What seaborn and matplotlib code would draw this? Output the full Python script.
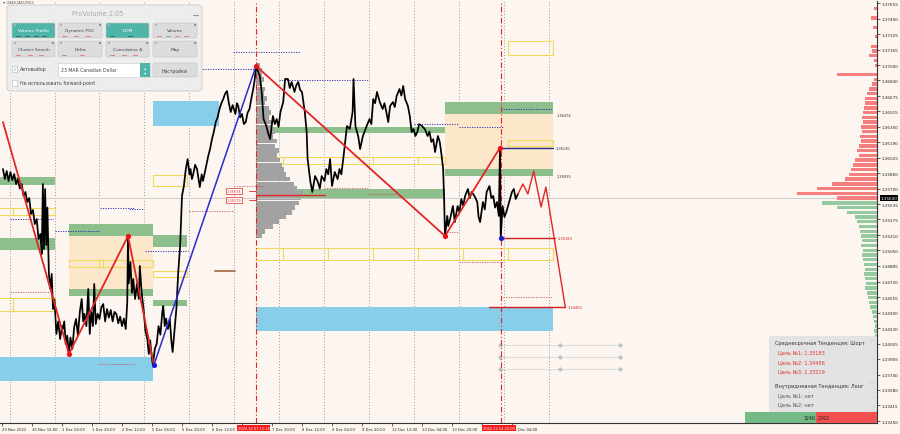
import numpy as np
import pandas as pd
import matplotlib
matplotlib.use("Agg")
import matplotlib.pyplot as plt
import matplotlib.transforms as mtrans
from matplotlib.patches import Rectangle, FancyBboxPatch
import seaborn as sns

# ---------------- data ----------------
# trading hours since 29 Nov 2022 20:00 (weekend removed), USDCAD M15 close path
price_hours = [0.5, 1.5, 2.5, 3.5, 4.5, 5.5, 6.5, 7.5, 8.5, 9.5, 10.5, 11.5, 12.5, 13.5, 14.5, 15.5,
               16.5, 17.5, 18.5, 19.5, 20.5, 21.2, 21.8, 22.4, 23, 23.6, 24.2, 25, 25.8, 26.5, 27.2,
               28, 29, 30, 31, 32, 32.5, 33.2, 34, 34.8, 35.7,
               36.5, 37.5, 38.5, 39.5, 40.5, 41.5, 42.5, 43.3, 44, 45, 46, 46.8, 47.6, 48.5, 49.2, 50,
               51, 52, 53, 54, 55, 56, 57, 58, 59, 60, 61, 62, 63, 64, 65, 66, 66.8, 67.2, 67.6,
               68.5, 69.3, 70, 71, 72, 73, 73.5, 74.5, 75.5, 76.5, 77.5, 78.3, 79, 80, 80.5, 81.5,
               82.5, 83.5, 84.5, 85.5, 86, 86.8, 87.5, 88.5, 89.5, 90.3, 91, 92, 93, 94, 95, 96, 97,
               98, 99, 100, 100.5, 101.3, 102, 103, 104, 105, 105.5, 106.5, 107.2, 108, 109, 110,
               111, 112, 113, 114, 115, 116, 117, 118, 119, 120, 121, 122, 123, 124.5, 125.3, 126,
               127, 128, 129, 130, 131, 132, 133, 134, 134.8, 135.5,
               137.5, 138.5, 139.5, 141, 142, 143, 144.5, 145.5, 146.5, 147.5, 148.5, 150, 151, 152.5,
               153.5, 154.5, 156, 157, 158, 159, 160, 161.5, 162.5, 163, 164.5, 165.5, 167, 168.5,
               169.5, 170.5, 172, 173, 174, 175, 176, 177.5, 179, 180, 181, 182, 184, 185.5, 187,
               187.5, 188.5, 190, 191, 192.5, 194.5, 196, 197, 198, 199, 200, 201.5, 203, 204, 205,
               206, 207,
               208.5, 209.5, 210.5, 212, 213, 214, 215, 216.5, 217.5, 218.5, 219.5, 220.5, 221.5,
               222.5, 224, 225.5, 227, 228, 229, 230, 231, 232.5, 233.5, 234.5, 235.3, 235.8, 236.3,
               237.5, 238, 239, 240.5, 241.5, 243, 244, 245, 246, 247, 248.5, 249.5, 250.5, 252,
               253.5, 254.2, 255, 256.5, 257.5, 258.5, 260, 261, 262, 263, 264, 265, 265.6, 266,
               267, 268, 269, 270.5, 272, 273, 274, 275.2]
price_close = [1.35906, 1.35801, 1.35885, 1.35780, 1.35874, 1.35790, 1.35853, 1.35748, 1.35801, 1.35700,
               1.35748, 1.35622, 1.35664, 1.35558, 1.35600, 1.35432, 1.35474, 1.35326, 1.35379, 1.35168,
               1.35221, 1.35010, 1.35748, 1.35063, 1.35695, 1.35105, 1.35500, 1.34800, 1.34641, 1.34800,
               1.34430, 1.34530, 1.34167, 1.34300, 1.34114, 1.34250, 1.34220, 1.34300, 1.34062, 1.34150,
               1.33956,
               1.34130, 1.34010, 1.34240, 1.34325, 1.34150, 1.34400, 1.34536, 1.34300, 1.34380, 1.34250,
               1.34641, 1.34167, 1.34400, 1.34250, 1.34694, 1.34272, 1.34380, 1.34325, 1.34450, 1.34483,
               1.34300, 1.34430, 1.34340, 1.34420, 1.34300, 1.34400, 1.34378, 1.34280, 1.34350, 1.34250,
               1.34330, 1.34220, 1.34500, 1.35200, 1.34700,
               1.34926, 1.34600, 1.34747, 1.34536, 1.34700, 1.34536, 1.34884, 1.34600, 1.34430, 1.34200,
               1.34114, 1.33956, 1.34100, 1.33900, 1.33840, 1.34010, 1.34062, 1.34250, 1.34160, 1.34400,
               1.34462, 1.34250, 1.34330, 1.34220, 1.34325, 1.34100, 1.33977, 1.34200, 1.34430, 1.34820,
               1.35095, 1.35622, 1.35727, 1.35900, 1.36011, 1.35850, 1.35906, 1.35800, 1.35853, 1.35950,
               1.35906, 1.35780, 1.35716, 1.35850, 1.35780, 1.35853, 1.35950, 1.36043, 1.36120, 1.36222,
               1.36300, 1.36401, 1.36450, 1.36538, 1.36600, 1.36644, 1.36700, 1.36728, 1.36600, 1.36507,
               1.36580, 1.36486, 1.36600, 1.36570, 1.36450, 1.36486, 1.36380, 1.36401, 1.36500, 1.36538,
               1.36650, 1.36749, 1.36850, 1.36992,
               1.36886, 1.36718, 1.36433, 1.36359, 1.36280, 1.36222, 1.36465, 1.36380, 1.36433, 1.36350,
               1.36507, 1.36612, 1.36855, 1.36855, 1.36760, 1.36823, 1.36718, 1.36790, 1.36823, 1.36740,
               1.36718, 1.36507, 1.36296, 1.36011, 1.35769, 1.35664, 1.35832, 1.35769, 1.35700, 1.35832,
               1.35780, 1.35906, 1.35850, 1.36011, 1.35727, 1.35874, 1.35800, 1.35906, 1.35850, 1.36011,
               1.36359, 1.36328, 1.36507, 1.36855, 1.36359, 1.36250, 1.36117, 1.36254, 1.36359, 1.36433,
               1.36380, 1.36644, 1.36600, 1.36718, 1.36612, 1.36538, 1.36600, 1.36507, 1.36401, 1.36570,
               1.36612, 1.36560, 1.36676, 1.36749, 1.36680, 1.36781, 1.36644, 1.36570, 1.36465, 1.36296,
               1.36328, 1.36254, 1.36296, 1.36380, 1.36359, 1.36328, 1.36254, 1.36300, 1.36191, 1.36220,
               1.36085, 1.36254, 1.36191, 1.36043, 1.35906, 1.35590, 1.35200, 1.35411, 1.35305, 1.35379,
               1.35516, 1.35347, 1.35516, 1.35450, 1.35590, 1.35520, 1.35622, 1.35695, 1.35600, 1.35664,
               1.35622, 1.35558, 1.35400, 1.35347, 1.35558, 1.35480, 1.35664, 1.35727, 1.35600, 1.35622,
               1.35500, 1.35558, 1.35411, 1.36130, 1.35183, 1.35516, 1.35400, 1.35453, 1.35558, 1.35664,
               1.35695, 1.35590, 1.35643]

time_tick_hours = [0, 16, 32, 48, 64, 80, 96, 112, 128, 144, 160, 176, 192, 208, 224, 240, 256, 272]
time_tick_labels = ["29 Nov 2022", "30 Nov 12:00", "1 Dec 04:00", "1 Dec 20:00", "2 Dec 12:00",
                    "5 Dec 04:00", "5 Dec 20:00", "6 Dec 12:00", "", "7 Dec 20:00",
                    "8 Dec 12:00", "9 Dec 04:00", "9 Dec 20:00", "12 Dec 12:00", "13 Dec 04:00",
                    "13 Dec 20:00", "", "15 Dec 04:00"]
day_separators = [4, 28, 52, 76, 100, 124, 148, 172, 196, 220, 244, 268, 292]
marked_times_h = [135.25, 266.0]
marked_times_lbl = ["2022.12.07 11:15", "2022.12.14 22:00"]

price_ticks = [1.37655, 1.37490, 1.37325, 1.37165, 1.37000, 1.36840, 1.36675, 1.36515, 1.36350,
               1.36190, 1.36025, 1.35860, 1.35700, 1.35535, 1.35375, 1.35210, 1.35050, 1.34885,
               1.34720, 1.34555, 1.34390, 1.34230, 1.34065, 1.33905, 1.33740, 1.33580, 1.33415, 1.33250]
current_price = 1.35600

zz_red_a_h = [0.5, 35.7, 67.2, 81.0]
zz_red_a_p = [1.36401, 1.33956, 1.35200, 1.33840]
zz_blue_h = [81.0, 135.5]
zz_blue_p = [1.33840, 1.36992]
zz_red_b_h = [135.5, 236.3, 265.6]
zz_red_b_p = [1.36992, 1.35200, 1.36130]
pivot_red_h = [35.7, 67.2, 135.5, 236.3, 265.6]
pivot_red_p = [1.33956, 1.35200, 1.36992, 1.35200, 1.36130]
pivot_blue_h = [81.0, 266.0]
pivot_blue_p = [1.33840, 1.35183]
forecast_h = [275.2, 277.8, 280.5, 283.6, 287.5, 290.1, 300.4]
forecast_p = [1.35643, 1.35748, 1.35643, 1.35885, 1.35506, 1.35716, 1.34456]

# zones: (start hour, end hour, low price, high price)
green_zones = [(-2, 28, 1.35737, 1.35822), (-2, 28, 1.35052, 1.35179),
               (35.7, 80.5, 1.35200, 1.35326), (35.7, 80.5, 1.34568, 1.34641),
               (80.5, 98.7, 1.35084, 1.35210), (80.5, 98.7, 1.34462, 1.34525),
               (135.5, 236.3, 1.35590, 1.35695), (138.5, 236.3, 1.36286, 1.36349),
               (236.3, 294, 1.36486, 1.36612), (236.3, 294, 1.35832, 1.35906)]
orange_zones = [(35.7, 80.5, 1.34641, 1.35200), (236.3, 294, 1.35906, 1.36486)]
blue_zones = [(-2, 80.5, 1.33672, 1.33925), (80.5, 115.7, 1.36359, 1.36623),
              (135.5, 294, 1.34199, 1.34452)]
yellow_boxes = [(-2, 28, 1.35421, 1.35495, [6]), (-2, 28, 1.34409, 1.34546, [6]),
                (35.7, 80.5, 1.34873, 1.34947, [52, 54]), (80.5, 98.7, 1.35727, 1.35843, []),
                (80.5, 98.7, 1.34768, 1.34831, []),
                (135.5, 294, 1.34947, 1.35073, [150, 174, 198, 222, 246, 270]),
                (135.5, 236.3, 1.35959, 1.36033, [150, 198, 222]),
                (269.9, 294, 1.37108, 1.37255, []), (269.9, 294, 1.36149, 1.36212, [])]
yellow_fill = [(80.5, 135.5, 1.3768, 1.3790)]

target_levels = [1.36130, 1.35183, 1.34456]
target_start = [265.6, 266.0, 260.0]
target_end = [294.0, 295.0, 300.4]
target_colors = ["#2B2B8C", "#D42020", "#D42020"]
zone_edge_labels = [1.36474, 1.35835]

small_labels_p = [1.35674, 1.35579]

# dotted short levels: (start h, end h, price)
navy_levels = [(4.3, 27.2, 1.35379), (28.3, 52.3, 1.35253), (52.3, 70.9, 1.35495), (68, 76, 1.35484),
               (76.3, 99.2, 1.35042), (105.6, 136, 1.36960), (123, 159, 1.37139), (148, 196, 1.36844),
               (220, 244, 1.36380), (244, 267, 1.36349), (267, 294, 1.36538)]
red_levels = [(4.3, 25.6, 1.34610), (52, 71, 1.33851), (100, 124, 1.35463), (124, 140, 1.35727),
              (172, 196, 1.35706), (196, 210, 1.35643), (236, 243, 1.35242), (244, 267, 1.34926),
              (267, 294, 1.34557)]
brown_level = (113.6, 124.3, 1.34831)

# session volume profile (left, grey)
vp_levels = [1.3700, 1.3695, 1.3690, 1.3685, 1.3680, 1.3675, 1.3670, 1.3665, 1.3660, 1.3655,
             1.3650, 1.3645, 1.3640, 1.3635, 1.3630, 1.3625, 1.3620, 1.3615, 1.3610, 1.3605,
             1.3600, 1.3595, 1.3590, 1.3585, 1.3580, 1.3575, 1.3570, 1.3565, 1.3560, 1.3555,
             1.3550, 1.3545, 1.3540, 1.3535, 1.3530, 1.3525, 1.3520]
vp_volume = [2, 3, 3, 4, 3, 5, 4, 6, 5, 7, 8, 7, 9, 8, 10, 9, 11, 10, 12, 11,
             13, 14, 15, 16, 18, 20, 22, 25, 24, 23, 21, 19, 16, 12, 9, 5, 3]
vp_start = 135.5
vp_poc = 1.35632

# market profile on right edge (sell above price, buy below)
rp_levels = list(np.round(np.arange(1.3765, 1.3329, -0.0005), 4))
rp_sell = [0, 3, 0, 6, 0, 4, 0, 2, 0, 6, 5, 8, 3, 2, 0, 40, 3, 5, 8, 10, 12, 12, 13, 14, 15, 14, 16,
           15, 17, 16, 18, 20, 18, 22, 24, 26, 28, 32, 45, 60, 80, 40]
rp_buy = [55, 40, 30, 22, 20, 18, 17, 16, 15, 16, 14, 15, 14, 13, 12, 13, 12, 11, 12, 10, 9, 8, 7,
          5, 4, 3, 2, 3, 2, 8, 2, 3, 1, 6, 2, 1, 4, 2, 8, 2, 3, 6, 2, 4, 10, 3]

grid_dot_rows = [1.34051, 1.33925, 1.33798]
grid_dot_cols = [265.6, 297.6, 329.6]

buy_total = 3240
sell_total = 2762
mid_trend = "Шорт"
mid_targets = [1.35183, 1.34456, 1.33219]
intraday_trend = "Лонг"
intraday_targets = ["нет", "нет"]

# ---------------- style ----------------
BG = "#FDF6F0"
GREEN = "#8DBF8D"
ORANGE = "#FCE7CB"
SKY = "#87CEEB"
YELLOW = "#EFD85A"
RED = "#E02626"
NAVY = "#2020B0"
TEAL = "#4FB5A9"

sns.set_style("white")
plt.rcParams["font.family"] = ["DejaVu Sans"]

fig = plt.figure(figsize=(9, 4.35), dpi=100)
fig.patch.set_facecolor(BG)
ax = fig.add_axes([0, 11 / 435, 877 / 900, 422 / 435])
ax.set_facecolor(BG)
XMIN, XMAX = -1.07, 466.7
ax.set_xlim(XMIN, XMAX)
ax.set_ylim(1.33229, 1.37677)

for d in day_separators:
    ax.axvline(d, color="#9A9A9A", lw=0.7, ls=(0, (1, 2)), zorder=0.5)

for h0, h1, lo, hi in orange_zones:
    ax.add_patch(Rectangle((h0, lo), h1 - h0, hi - lo, fc=ORANGE, ec="none", zorder=1))
for h0, h1, lo, hi in blue_zones:
    ax.add_patch(Rectangle((h0, lo), h1 - h0, hi - lo, fc=SKY, ec="none", zorder=1.2))
for h0, h1, lo, hi in green_zones:
    ax.add_patch(Rectangle((h0, lo), h1 - h0, hi - lo, fc=GREEN, ec="none", zorder=1.3))
for h0, h1, lo, hi in yellow_fill:
    ax.add_patch(Rectangle((h0, lo), h1 - h0, hi - lo, fc="#F3D23A", ec="none", zorder=1.3))
for h0, h1, lo, hi, splits in yellow_boxes:
    ax.add_patch(Rectangle((h0, lo), h1 - h0, hi - lo, fc="none", ec=YELLOW, lw=0.8, zorder=1.5))
    for s in splits:
        ax.plot([s, s], [lo, hi], color=YELLOW, lw=0.8, zorder=1.5)

# left volume profile
ax.barh(vp_levels, vp_volume, left=vp_start, height=0.00048, color="#A2A2A2", lw=0, zorder=1.6)
ax.plot([vp_start, vp_start + 37], [vp_poc, vp_poc], color=RED, lw=1.0, zorder=1.7)

# current price line
ax.axhline(current_price, color="#C8C8C8", lw=0.6, zorder=1.8)

for h0, h1, p in navy_levels:
    ax.plot([h0, h1], [p, p], color=NAVY, lw=0.6, ls=(0, (1.5, 1.5)), zorder=2)
for h0, h1, p in red_levels:
    ax.plot([h0, h1], [p, p], color="#D05050", lw=0.6, ls=(0, (1.5, 1.5)), zorder=2)
ax.plot([brown_level[0], brown_level[1]], [brown_level[2]] * 2, color="#B07A55", lw=1.4, zorder=2)

# right market profile
px_per_h = 1.875
lv = np.array(rp_levels)
vol = np.array(rp_sell + rp_buy, dtype=float) / px_per_h
cols = ["#F77E7E"] * len(rp_sell) + ["#95C9A0"] * len(rp_buy)
ax.barh(lv, vol, left=XMAX - vol, height=0.00036, color=cols, lw=0, zorder=2.5)

# marked time lines
for h in marked_times_h:
    ax.axvline(h, color=RED, lw=0.8, ls=(0, (5, 2, 1, 2)), zorder=2.2)

# price
df = pd.DataFrame({"hour": price_hours, "close": price_close})
sns.lineplot(data=df, x="hour", y="close", ax=ax, color="black", lw=1.25, estimator=None,
             sort=False, zorder=3)

# zigzags
ax.plot(zz_red_a_h, zz_red_a_p, color=RED, lw=1.3, zorder=4)
ax.plot(zz_blue_h, zz_blue_p, color="#2A2AD0", lw=1.1, zorder=4)
ax.plot(zz_red_b_h, zz_red_b_p, color=RED, lw=1.3, zorder=4)
ax.plot(forecast_h, forecast_p, color=RED, lw=1.0, zorder=4)
ax.scatter(pivot_red_h, pivot_red_p, s=14, color="#F01010", zorder=5, lw=0)
ax.scatter(pivot_blue_h, pivot_blue_p, s=14, color="#1A1AD0", zorder=5, lw=0)

# target levels & labels
for p, h0, h1, c in zip(target_levels, target_start, target_end, target_colors):
    ax.plot([h0, h1], [p, p], color=c, lw=1.0, zorder=4)
    ax.text(h1 + 1.5, p, f"{p:.5f}", color=c if c != "#2B2B8C" else "#333333",
            fontsize=2.6, va="center", ha="left", zorder=6)
for p in zone_edge_labels:
    ax.text(296, p, f"{p:.5f}", color="#333333", fontsize=2.6, va="center", ha="left", zorder=6)
for p in small_labels_p:
    ax.text(120, p, f"{p:.5f}", color=RED, fontsize=2.5, va="center", ha="left", zorder=6,
            bbox=dict(boxstyle="square,pad=0.25", fc="white", ec=RED, lw=0.5))
    ax.plot([131.5, 135.5], [p, p], color=RED, lw=0.6, zorder=6)

# grey dot grid
for p in grid_dot_rows:
    ax.plot([grid_dot_cols[0], grid_dot_cols[-1]], [p, p], color="#D0D0D0", lw=0.5, zorder=2)
    ax.scatter(grid_dot_cols, [p] * len(grid_dot_cols), s=9, color="#B8C8C0", zorder=2.1, lw=0)

# axes cosmetics
for s in ["top", "left"]:
    ax.spines[s].set_visible(False)
for s in ["right", "bottom"]:
    ax.spines[s].set_color("#333333")
    ax.spines[s].set_linewidth(0.8)
ax.yaxis.tick_right()
ax.set_yticks(price_ticks)
ax.set_yticklabels([f"{t:.5f}" for t in price_ticks])
ax.set_xticks(time_tick_hours)
ax.set_xticklabels(time_tick_labels)
for lbl in ax.get_xticklabels():
    lbl.set_ha("left")
ax.tick_params(axis="y", length=2, width=0.5, pad=1.2, labelsize=3.0, colors="#222222", right=True)
ax.tick_params(axis="x", length=2, width=0.5, pad=1.2, labelsize=2.7, colors="#222222", bottom=True)
ax.set_xlabel("")
ax.set_ylabel("")

btrans = mtrans.blended_transform_factory(ax.transData, ax.transAxes)
for h, lbl in zip(marked_times_h, marked_times_lbl):
    ax.text(h - 1.0, -0.007, lbl, transform=btrans, ha="center", va="top", fontsize=2.6,
            color="white", zorder=10, clip_on=False,
            bbox=dict(boxstyle="square,pad=0.2", fc="#F21B1B", ec="none"))

ytrans = mtrans.blended_transform_factory(ax.transAxes, ax.transData)
ax.text(1.004, current_price, f"{current_price:.5f}", transform=ytrans, ha="left", va="center",
        fontsize=3.0, color="white", zorder=10, clip_on=False,
        bbox=dict(boxstyle="square,pad=0.2", fc="black", ec="none"))

# ---------------- UI overlay (pixel coords) ----------------
ui = fig.add_axes([0, 0, 1, 1], zorder=10)
ui.set_xlim(0, 900)
ui.set_ylim(435, 0)
ui.axis("off")
ui.patch.set_alpha(0)

ui.text(3, 3.5, "▾ USDCAD,M15", fontsize=3.0, color="#555555", va="center", ha="left")

ui.add_patch(FancyBboxPatch((7, 6), 195, 86, boxstyle="round,pad=0,rounding_size=3",
                            fc="#EDEDED", ec="#C9C9C9", lw=0.6, alpha=0.97))
ui.text(98, 14, "ProVolume 2.05", fontsize=4.7, color="#A9A9A9", ha="center", va="center")
ui.plot([193, 198], [16, 16], color="#9A9A9A", lw=0.8)


def button(x0, x1, y0, y1, label, active, marks):
    fc = TEAL if active else "#DCDCDC"
    ui.add_patch(FancyBboxPatch((x0, y0), x1 - x0, y1 - y0, boxstyle="round,pad=0,rounding_size=1.5",
                                fc=fc, ec="#C2C2C2", lw=0.4))
    ui.text((x0 + x1) / 2, (y0 + y1) / 2 - 0.3, label, fontsize=3.2,
            color="white" if active else "#454545", ha="center", va="center")
    ui.add_patch(Rectangle((x0 + 1.5, y0 + 1), 2, 1.6, fc="#B0B0B0", ec="none"))
    ui.add_patch(Rectangle((x1 - 3.5, y0 + 1), 2, 1.6, fc="#909090", ec="none"))
    for k, c in enumerate(marks):
        xx = x0 + 4 + k * (x1 - x0 - 8) / max(len(marks), 1)
        ui.plot([xx, xx + 4], [y1 - 1.8, y1 - 1.8], color=c, lw=0.7)


button(12, 55, 24, 39, "Volume Profile", True, ["#3A6E68"] * 4)
button(58, 102, 24, 39, "Dynamic POC", False, ["#E08080"] * 3)
button(106, 149, 24, 39, "DOM", True, ["#3A6E68", "#3A6E68"])
button(153, 197, 24, 39, "Volume", False, ["#E08080", "#7CB07C", "#E08080", "#E08080"])
button(12, 55, 42, 58, "Cluster Search", False, ["#E08080"] * 3)
button(58, 102, 42, 58, "Delta", False, ["#7CB07C", "#E08080"])
button(106, 149, 42, 58, "Cumulative Δ", False, ["#E08080"] * 3)
button(153, 197, 42, 58, "Map", False, [])

ui.add_patch(Rectangle((12, 67), 5, 5.5, fc="white", ec="#B5B5B5", lw=0.4))
ui.text(14.5, 69.5, "✓", fontsize=4, color=TEAL, ha="center", va="center")
ui.text(19.5, 70, "Автовыбор", fontsize=3.4, color="#444444", ha="left", va="center")
ui.add_patch(Rectangle((58, 64), 92, 14, fc="white", ec="#C8C8C8", lw=0.4))
ui.text(61, 71, "23 MAR Canadian Dollar", fontsize=3.3, color="#444444", ha="left", va="center")
ui.add_patch(Rectangle((140, 64), 10, 14, fc=TEAL, ec="none"))
ui.text(145, 68.5, "▴", fontsize=3.2, color="white", ha="center", va="center")
ui.text(145, 73.5, "▾", fontsize=3.2, color="white", ha="center", va="center")
ui.add_patch(FancyBboxPatch((153, 64), 44, 14, boxstyle="round,pad=0,rounding_size=1.5",
                            fc="#DCDCDC", ec="#C2C2C2", lw=0.4))
ui.text(175, 71, "Настройки", fontsize=3.3, color="#454545", ha="center", va="center")
ui.add_patch(Rectangle((12, 81), 5, 5.5, fc="white", ec="#B5B5B5", lw=0.4))
ui.text(19.5, 84, "Не использовать forward-point", fontsize=3.4, color="#444444",
        ha="left", va="center")

# trend info box
ui.add_patch(FancyBboxPatch((769, 337), 108, 76, boxstyle="round,pad=0,rounding_size=2",
                            fc="#E2E2E2", ec="none", alpha=0.92))
ui.text(775, 344, f"Среднесрочная Тенденция: {mid_trend}", fontsize=3.6, color="#333333",
        ha="left", va="center")
for i, t in enumerate(mid_targets):
    ui.text(778, 353 + i * 9.5, f"Цель №{i + 1}: {t:.5f}", fontsize=3.6, color="#E03030",
            ha="left", va="center")
ui.text(775, 387, f"Внутридневная Тенденция: {intraday_trend}", fontsize=3.6, color="#333333",
        ha="left", va="center")
for i, t in enumerate(intraday_targets):
    ui.text(778, 396 + i * 9, f"Цель №{i + 1}: {t}", fontsize=3.6, color="#555555",
            ha="left", va="center")

# buy / sell totals bar
total_w = 132.0
gw = total_w * buy_total / (buy_total + sell_total)
x_end = 877
ui.add_patch(Rectangle((x_end - total_w, 413), gw, 11, fc="#74BA86", ec="none"))
ui.add_patch(Rectangle((x_end - total_w + gw, 413), total_w - gw, 11, fc="#F25050", ec="none"))
ui.text(x_end - total_w + gw - 1, 418.5, str(buy_total), fontsize=3.4, color="#222222",
        ha="right", va="center")
ui.text(x_end - total_w + gw + 1, 418.5, str(sell_total), fontsize=3.4, color="#222222",
        ha="left", va="center")

fig.savefig("out.png", dpi=100, facecolor=BG)
